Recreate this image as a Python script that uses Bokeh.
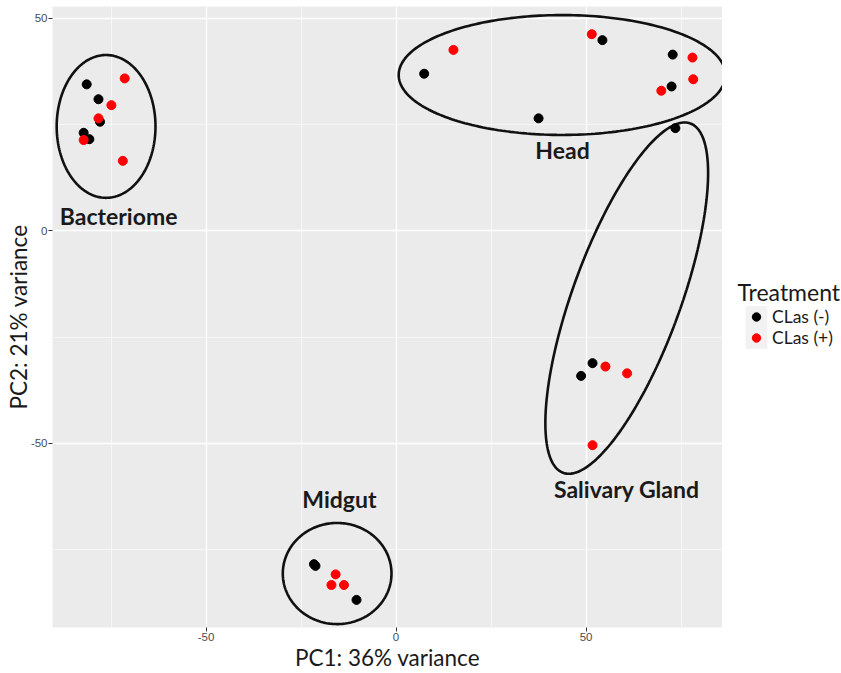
import numpy as np
from bokeh.plotting import figure
from bokeh.layouts import row
from bokeh.models import Range1d, FixedTicker, Legend, LegendItem, Label, BoxAnnotation
from bokeh.core.properties import value
from bokeh.embed import file_html
from bokeh.resources import INLINE

# ---------------- data ----------------
# CLas (-) samples
pc1_neg = [-81.4, -78.3, -77.9, -82.2, -80.7,
           7.4, 54.3, 72.8, 72.5, 37.5,
           73.5, 51.7, 48.7,
           -21.6, -21.2, -10.4]
pc2_neg = [34.5, 31.0, 25.7, 23.1, 21.6,
           37.0, 44.9, 41.5, 34.0, 26.5,
           24.2, -31.1, -34.1,
           -78.4, -78.8, -86.8]
# CLas (+) samples
pc1_pos = [-71.4, -74.9, -78.3, -82.2, -71.9,
           15.1, 51.5, 78.0, 78.2, 69.8,
           55.1, 60.8, 51.7,
           -15.9, -17.0, -13.7]
pc2_pos = [35.9, 29.6, 26.5, 21.4, 16.5,
           42.6, 46.3, 40.8, 35.7, 33.0,
           -31.9, -33.5, -50.4,
           -80.8, -83.3, -83.3]

treatments = ["CLas (-)", "CLas (+)"]
legend_title = "Treatment"
x_ticks = [-50, 0, 50]
y_ticks = [-50, 0, 50]
minor_ticks = [-75, -25, 25, 75]

# tissue groups: label, label position, ellipse centre and conjugate semi-axis vectors
tissues = ["Bacteriome", "Head", "Salivary Gland", "Midgut"]
label_x = [-73.0, 43.8, 60.7, -14.9]
label_y = [3.5, 19.1, -60.7, -63.1]
ell_cx = [-76.3, 43.7, 60.7, -15.5]
ell_cy = [24.6, 36.7, -15.8, -80.6]
ell_u = [(13.0, 0.0), (43.0, 0.0), (16.74, 41.1), (14.3, 0.0)]
ell_v = [(0.0, 16.8), (0.0, 14.1), (-13.35, 4.35), (0.0, 11.9)]

H = 673
W_MAIN = 722
W_LEG = 119
FRAME_TOP = 6
FRAME_BOTTOM = 628

# ---------------- main panel ----------------
p = figure(width=W_MAIN, height=H, output_backend="svg", toolbar_location=None,
           x_range=Range1d(-90.4, 85.9), y_range=Range1d(-93.3, 52.82),
           min_border_left=52, min_border_right=0, min_border_top=FRAME_TOP,
           min_border_bottom=0)
p.background_fill_color = "#EBEBEB"
p.border_fill_color = "white"
p.outline_line_color = None

for ax, ticks in ((p.xaxis, x_ticks), (p.yaxis, y_ticks)):
    ax.ticker = FixedTicker(ticks=ticks, minor_ticks=minor_ticks)
    ax.major_label_overrides = {t: str(t) for t in ticks}
    ax.axis_line_color = None
    ax.major_tick_line_color = "#333333"
    ax.major_tick_out = 4
    ax.major_tick_in = 0
    ax.minor_tick_line_color = None
    ax.major_label_text_font = "Liberation Sans"
    ax.major_label_text_font_size = "11.5px"
    ax.major_label_text_color = "#4D4D4D"
    ax.major_label_standoff = 1
    ax.axis_label_text_font = "Lato"
    ax.axis_label_text_font_size = "22.5px"
    ax.axis_label_text_font_style = "normal"
    ax.axis_label_text_color = "#1a1a1a"
    ax.axis_label_standoff = 0

p.yaxis.axis_label_standoff = -4
p.xaxis.axis_label = "PC1: 36% variance"
p.yaxis.axis_label = "PC2: 21% variance"

for g in (p.xgrid, p.ygrid):
    g.grid_line_color = "white"
    g.grid_line_width = 1.3
    g.minor_grid_line_color = "white"
    g.minor_grid_line_width = 0.6

# ellipses
t = np.linspace(0, 2 * np.pi, 240)
for cx, cy, u, v in zip(ell_cx, ell_cy, ell_u, ell_v):
    xs = cx + u[0] * np.cos(t) + v[0] * np.sin(t)
    ys = cy + u[1] * np.cos(t) + v[1] * np.sin(t)
    p.line(xs, ys, line_color="#111111", line_width=2.6)

p.scatter(pc1_neg, pc2_neg, size=9, fill_color="black", line_color="black")
p.scatter(pc1_pos, pc2_pos, size=9, fill_color="red", line_color="red")

p.text(x=label_x, y=label_y, text=tissues, text_font=value("Lato"),
       text_font_style="bold", text_font_size="23px", text_color="#1a1a1a",
       text_align="center", text_baseline="middle")

# ---------------- legend panel (its frame aligns with the main frame) ----------------
q = figure(width=W_LEG, height=H, output_backend="svg", toolbar_location=None,
           x_range=Range1d(0, W_LEG), y_range=Range1d(H - FRAME_BOTTOM, H - FRAME_TOP),
           x_axis_type=None, y_axis_type=None, min_border=0,
           min_border_top=FRAME_TOP)
q.outline_line_color = None
q.background_fill_color = "white"
q.border_fill_color = "white"
q.xgrid.visible = False
q.ygrid.visible = False

# key backgrounds (grey95)
q.add_layout(BoxAnnotation(left=23, right=45, bottom=H - 349, top=H - 306,
                           fill_color="#F2F2F2", fill_alpha=1, line_color="white",
                           line_width=1, level="underlay"))

k_neg = q.scatter(pc1_neg, pc2_neg, size=9, fill_color="black", line_color="black",
                  visible=False)
k_pos = q.scatter(pc1_pos, pc2_pos, size=9, fill_color="red", line_color="red",
                  visible=False)

legend = Legend(items=[LegendItem(label=treatments[0], renderers=[k_neg], index=0),
                       LegendItem(label=treatments[1], renderers=[k_pos], index=0)],
                location=(23, FRAME_BOTTOM - 349), padding=0, margin=0, spacing=0,
                glyph_width=22, glyph_height=21, label_standoff=5,
                label_height=21,
                label_text_font="Lato", label_text_font_size="17.5px",
                label_text_color="#1a1a1a", background_fill_alpha=0,
                border_line_alpha=0, inactive_fill_alpha=0)
q.add_layout(legend)

q.add_layout(Label(x=15, y=H - 292, text=legend_title, text_font="Lato",
                   text_font_size="23px", text_color="#1a1a1a",
                   text_align="left", text_baseline="middle"))

open("out.html", "w").write(file_html(row(p, q), INLINE))
